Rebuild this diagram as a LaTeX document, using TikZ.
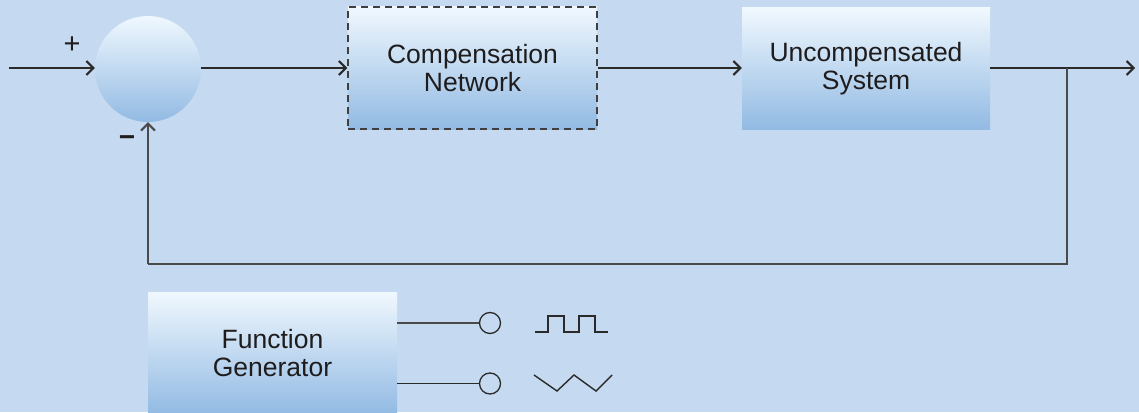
\documentclass[tikz,border=0pt]{standalone}
\usepackage{fontspec}
\setmainfont{Liberation Sans}
\usetikzlibrary{arrows.meta}
\definecolor{bg}{HTML}{C5DAF0}
\definecolor{gtop}{HTML}{F0F8FE}
\definecolor{gbot}{HTML}{92BAE3}
\definecolor{ln}{HTML}{2A2A2A}
\definecolor{tx}{HTML}{1E1C1D}
\tikzset{
  blockfill/.style={top color=gtop, bottom color=gbot, inner sep=0pt, align=center,
    font=\fontsize{26.5}{28}\selectfont, text=tx},
  blockbox/.style={blockfill, rectangle, minimum width=249pt, minimum height=122pt},
  sumnode/.style={top color=gtop, bottom color=gbot, circle, minimum size=106pt, inner sep=0pt},
  port/.style={circle, draw=ln, line width=1.3pt, fill=bg, minimum size=21pt, inner sep=0pt},
  wire/.style={draw=ln, line width=1.5pt},
  arr/.style={wire, -{Straight Barb[length=7pt,width=14pt,line width=2pt]}},
  sign/.style={font=\fontsize{25}{26}\selectfont, text=tx, inner sep=0pt}
}
\begin{document}
\begin{tikzpicture}[x=1pt,y=-1pt]
\path[use as bounding box, fill=bg] (0,0) rectangle (1139,412);
\begin{scope}
\clip (0,0) rectangle (1139,412);
\node[sumnode] (s) at (148,69) {};
\node[blockbox, draw=ln!90, dashed, line width=1.4pt, dash pattern=on 7pt off 5pt] (c) at (472.5,68) {Compensation\\Network};
\node[blockbox, minimum width=248pt, minimum height=121pt] (u) at (866,68.5) {Uncompensated\\System};
\node[blockbox, minimum height=122pt] (f) at (272.5,353) {Function\\Generator};
\node[port] (p1) at (490,323) {};
\node[port] (p2) at (490,383.5) {};
\node[sign, font=\fontsize{29}{30}\selectfont] (plus) at (72,45) {+};
\node[sign, font=\fontsize{28}{28}\selectfont\bfseries] (minus) at (127,141) {\textminus};
\coordinate (in) at (9,68);
\coordinate (out) at (1135,68);
\coordinate (br) at (1067,68);
\coordinate (fb) at (148,264);
\draw[arr] (in) -- (s.west |- in);
\draw[arr] (s.east |- in) -- (c.west);
\draw[arr] (c.east) -- (u.west |- c.east);
\draw[arr] (u.east |- c.east) -- (out);
\draw[wire, draw=ln!85] (br) |- (fb);
\draw[arr, draw=ln!85] (fb) -- (s.south);
\draw[wire, draw=ln!85] (f.east |- p1) -- (p1.west);
\draw[wire] (f.east |- p2) -- (p2.west);
\draw[ln, line width=1.4pt] (535,332) -- (548,332) -- (548,316) -- (564,316) -- (564,332) -- (579,332) -- (579,316) -- (595,316) -- (595,332) -- (608,332);
\draw[ln, line width=1.4pt] (534,375) -- (557,391) -- (574,375) -- (596,391) -- (612,375);
\end{scope}
\end{tikzpicture}
\end{document}
